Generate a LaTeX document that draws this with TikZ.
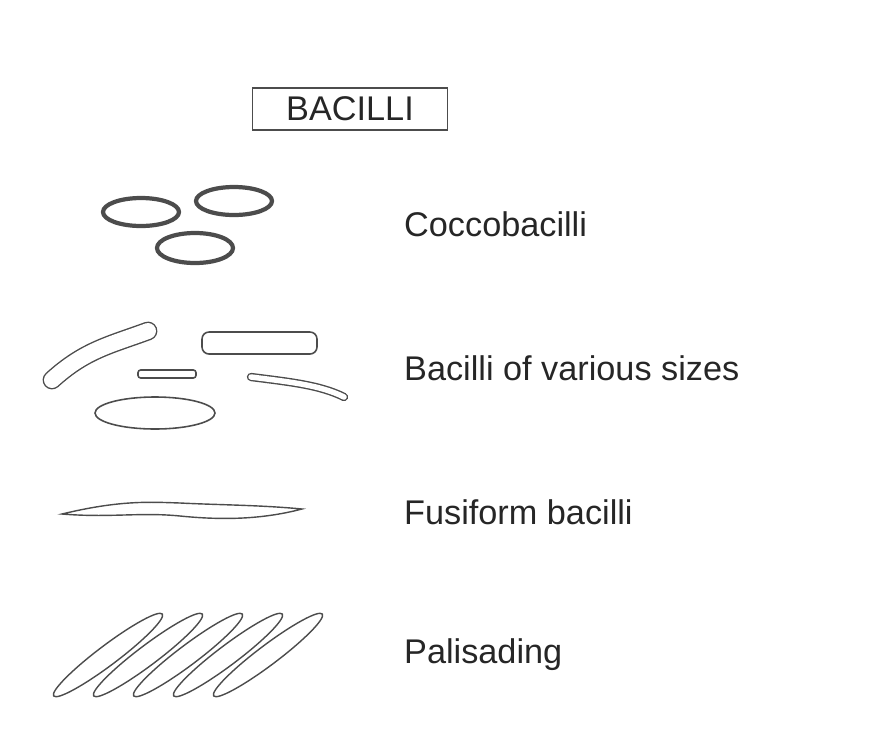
\documentclass[tikz,border=0pt]{standalone}
\usepackage{fontspec}
\setmainfont{Liberation Sans}
\begin{document}
\begin{tikzpicture}[x=0.02cm,y=-0.02cm,
    lbl/.style={anchor=west,font=\fontsize{19.5}{23}\selectfont,text=black!85},
    cell/.style={draw=black!70,line width=0.9pt},
    rod/.style={draw=black!70,line width=0.8pt,double=white,line cap=round}]
       \useasboundingbox(0,0)rectangle(870,748);%枠
       \node[draw=black!70,line width=0.9pt,minimum width=3.9cm,minimum height=0.84cm,
           font=\fontsize{19.5}{23}\selectfont,text=black!85](title)at(350,109){BACILLI};%見出し

       % 球桿菌
       \draw[cell,line width=2.4pt](141,212)ellipse[x radius=38,y radius=14];
       \draw[cell,line width=2.4pt](234,201)ellipse[x radius=38,y radius=14];
       \draw[cell,line width=2.4pt](195,248)ellipse[x radius=38,y radius=15];
       \node[lbl](coc)at(398,224){Coccobacilli};

       % 大小さまざま
       \draw[rod,double distance=0.32cm](52,380)..controls(85,350)and(110,345)..(148,331);
       \draw[cell,rounded corners=4pt](202,332)rectangle(317,354);
       \draw[cell,rounded corners=1.5pt](138,370)rectangle(196,378);
       \draw[rod,double distance=0.11cm](251,377)..controls(290,382)and(320,385)..(344,397);
       \draw[cell](155,413)ellipse[x radius=60,y radius=16];
       \node[lbl](var)at(398,368){Bacilli of various sizes};

       % 紡錘状
       \draw[cell,line width=0.8pt](62,514)..controls(120,500)and(150,502)..(180,503)
           ..controls(220,505)and(260,505)..(302,509)
           ..controls(260,520)and(220,520)..(180,516)
           ..controls(140,512)and(110,518)..cycle;
       \node[lbl](fus)at(398,512){Fusiform bacilli};

       % 柵状配列
       \foreach \t in{0,...,4}
           \draw[cell,line width=0.8pt](108+40*\t,655)ellipse[x radius=68,y radius=10,rotate=37];
       \node[lbl](pal)at(398,655){Palisading};
\end{tikzpicture}
\end{document}
